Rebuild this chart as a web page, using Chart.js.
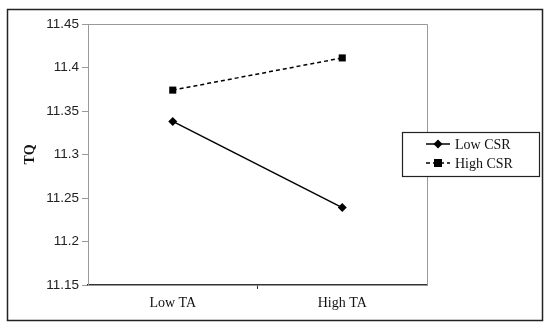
<!DOCTYPE html>
<html><head><meta charset="utf-8">
<script src="https://cdn.jsdelivr.net/npm/chart.js@4"></script>
<style>html,body{margin:0;padding:0;background:#fff;}#wrap{position:relative;width:550px;height:329px;}</style>
</head><body><div id="wrap"><canvas id="c" width="550" height="329"></canvas></div>
<script>
const categories = ["Low TA", "High TA"];
const lowCSR = [11.338, 11.239];
const highCSR = [11.374, 11.411];
const seriesLabels = ["Low CSR", "High CSR"];
const yTicks = [11.15, 11.2, 11.25, 11.3, 11.35, 11.4, 11.45];
const yTitle = "TQ";

const frame = {
  id: 'frame',
  beforeDraw(chart) {
    const ctx = chart.ctx;
    ctx.save();
    ctx.fillStyle = '#fff';
    ctx.fillRect(0, 0, chart.width, chart.height);
    ctx.strokeStyle = '#222';
    ctx.lineWidth = 1.5;
    ctx.strokeRect(7.5, 9.5, 535, 311);
    ctx.restore();
  },
  afterDatasetsDraw(chart) {
    const {ctx, chartArea: a} = chart;
    ctx.save();
    ctx.strokeStyle = '#999';
    ctx.lineWidth = 1;
    ctx.beginPath();
    ctx.moveTo(a.left, a.top + 0.5);
    ctx.lineTo(a.right + 0.5, a.top + 0.5);
    ctx.lineTo(a.right + 0.5, a.bottom);
    ctx.stroke();
    ctx.restore();
  },
  afterDraw(chart) {
    const ctx = chart.ctx;
    const bx = 402, by = 132, bw = 137, bh = 44;
    ctx.save();
    ctx.fillStyle = '#fff';
    ctx.fillRect(bx, by, bw, bh);
    ctx.strokeStyle = '#222';
    ctx.lineWidth = 1.2;
    ctx.strokeRect(bx + 0.5, by + 0.5, bw, bh);
    chart.data.datasets.forEach((ds, i) => {
      const y = 144 + i * 19;
      ctx.strokeStyle = '#000';
      ctx.lineWidth = 1.5;
      ctx.setLineDash(ds.borderDash || []);
      ctx.beginPath();
      ctx.moveTo(426, y);
      ctx.lineTo(450, y);
      ctx.stroke();
      ctx.setLineDash([]);
      ctx.fillStyle = '#000';
      if (ds.pointStyle === 'rect') {
        ctx.fillRect(438 - 4, y - 4, 8, 8);
      } else {
        ctx.beginPath();
        ctx.moveTo(438, y - 4.5); ctx.lineTo(442.5, y); ctx.lineTo(438, y + 4.5); ctx.lineTo(433.5, y);
        ctx.closePath(); ctx.fill();
      }
      ctx.font = '14px "Liberation Serif", "Times New Roman", serif';
      ctx.textBaseline = 'middle';
      ctx.textAlign = 'left';
      ctx.fillStyle = '#111';
      ctx.fillText(ds.label, 455, y + 1);
    });
    ctx.restore();
  }
};

new Chart(document.getElementById('c'), {
  type: 'line',
  data: {
    labels: categories,
    datasets: [
      { label: seriesLabels[0], data: lowCSR, borderColor: '#000', backgroundColor: '#000', borderWidth: 1.5,
        pointStyle: 'rectRot', pointRadius: 4.5, pointBorderWidth: 0, pointHoverRadius: 4.5 },
      { label: seriesLabels[1], data: highCSR, borderColor: '#000', backgroundColor: '#000', borderWidth: 1.5,
        borderDash: [4, 3], pointStyle: 'rect', pointRadius: 5, pointBorderWidth: 0, pointHoverRadius: 5 }
    ]
  },
  options: {
    responsive: false,
    animation: false,
    events: [],
    layout: { padding: { left: 0, right: 123, top: 24, bottom: 0 } },
    plugins: { legend: { display: false }, tooltip: { enabled: false } },
    scales: {
      x: {
        offset: true,
        afterFit(s) { s.height = 44; },
        grid: { offset: true, drawOnChartArea: false, tickLength: 4,
          color: c => c.index === 1 ? '#333' : 'rgba(0,0,0,0)' },
        border: { color: '#333', width: 1.5 },
        ticks: { padding: 6, color: '#111', font: { family: '"Liberation Serif", "Times New Roman", serif', size: 14 } }
      },
      y: {
        min: 11.15, max: 11.45,
        afterFit(s) { s.width = 88; },
        afterBuildTicks(s) { s.ticks = yTicks.map(v => ({ value: v })); },
        grid: { drawOnChartArea: false, tickLength: 6, color: '#999' },
        border: { color: '#999', width: 1 },
        ticks: { padding: 3, color: '#222', font: { family: '"Liberation Sans", Arial, sans-serif', size: 13.5 },
          callback: v => String(Number(v.toFixed(2))) },
        title: { display: true, text: yTitle, color: '#111', padding: { top: 22, bottom: 0 },
          font: { family: '"Liberation Serif", "Times New Roman", serif', size: 14, weight: 'bold' } }
      }
    }
  },
  plugins: [frame]
});
</script></body></html>
